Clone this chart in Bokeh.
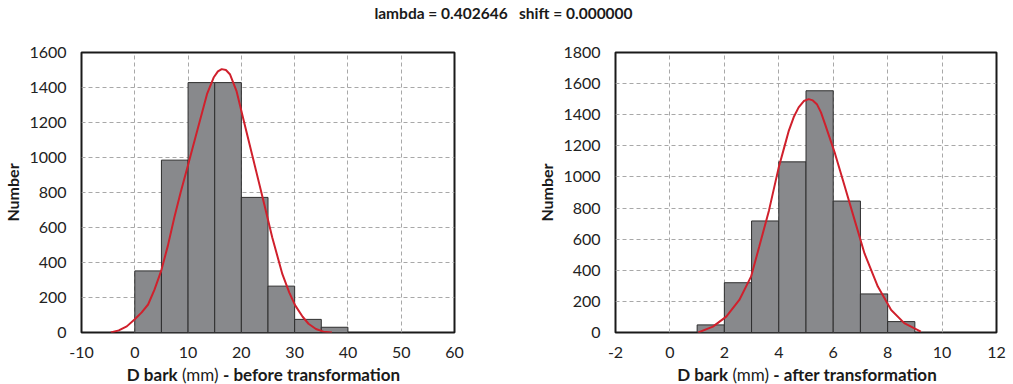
from bokeh.plotting import figure
from bokeh.models import Div, FixedTicker
from bokeh.layouts import column, row
from bokeh.embed import file_html
from bokeh.resources import INLINE

# ---------------- data ----------------
title_text = "lambda = 0.402646&nbsp;&nbsp;&nbsp;shift = 0.000000"
xlabel_before = "<b>D bark</b> (mm) <b>- before transformation</b>"
xlabel_after = "<b>D bark</b> (mm) <b>- after transformation</b>"
ylabel = "Number"

# before transformation
bins_before_left = [0, 5, 10, 15, 20, 25, 30, 35]
bins_before_right = [5, 10, 15, 20, 25, 30, 35, 40]
counts_before = [352, 985, 1428, 1428, 772, 265, 75, 30]
curve_before_x = [-4.5, -3.0, -1.5, 0.0, 1.3, 2.5, 3.7, 4.95, 6.2, 7.42, 8.6, 9.87, 11.7,
                  13.55, 14.8, 15.6, 16.32, 17.1, 17.85, 19.08, 20.3, 22.15, 23.99, 25.8,
                  27.7, 29.0, 30.1, 31.5, 32.6, 34.0, 35.4, 37.0]
curve_before_y = [0, 12, 35, 76, 115, 160, 245, 352, 495, 657, 800, 943, 1152,
                  1362, 1457, 1492, 1505, 1500, 1476, 1381, 1229, 1000, 771, 543,
                  333, 228, 155, 90, 50, 20, 5, 0]
xticks_before = [-10, 0, 10, 20, 30, 40, 50, 60]
yticks_before = [0, 200, 400, 600, 800, 1000, 1200, 1400, 1600]

# after transformation
bins_after_left = [1, 2, 3, 4, 5, 6, 7, 8]
bins_after_right = [2, 3, 4, 5, 6, 7, 8, 9]
counts_after = [49, 320, 717, 1097, 1554, 845, 248, 70]
curve_after_x = [1.04, 1.58, 2.07, 2.55, 2.98, 3.28, 3.64, 4.0, 4.2, 4.37, 4.55, 4.73,
                 4.92, 5.10, 5.25, 5.4, 5.55, 5.7, 6.07, 6.43, 6.79, 7.15, 7.64, 8.13,
                 8.61, 9.22]
curve_after_y = [0, 38, 102, 209, 359, 551, 785, 1063, 1190, 1298, 1385, 1447,
                 1488, 1500, 1492, 1468, 1415, 1340, 1148, 935, 721, 508, 295, 145,
                 60, 6]
xticks_after = [-2, 0, 2, 4, 6, 8, 10, 12]
yticks_after = [0, 200, 400, 600, 800, 1000, 1200, 1400, 1600, 1800]

FONT = "Lato"
BAR_FILL = "#88898c"
BAR_LINE = "#2e2e2e"
CURVE = "#d0202c"
TEXT = "#1a1a1a"


def make_plot(width, bl, br, xr, yr, xticks, yticks, lefts, rights, counts, cx, cy):
    p = figure(width=width, height=328, x_range=xr, y_range=yr,
               output_backend="svg", toolbar_location=None,
               min_border_left=bl, min_border_right=br,
               min_border_top=18, min_border_bottom=30)
    p.title = None
    p.outline_line_color = TEXT
    p.outline_line_width = 2
    p.outline_line_alpha = 1.0
    p.background_fill_color = "white"
    p.border_fill_color = "white"

    p.quad(left=lefts, right=rights, bottom=0, top=counts,
           fill_color=BAR_FILL, line_color=BAR_LINE, line_width=1)
    p.line(cx, cy, line_color=CURVE, line_width=2)

    for ax, ticks in ((p.xaxis, xticks), (p.yaxis, yticks)):
        ax.ticker = FixedTicker(ticks=ticks)
        ax.major_tick_line_color = None
        ax.minor_tick_line_color = None
        ax.axis_line_color = None
        ax.major_label_text_font = FONT
        ax.major_label_text_font_size = "16px"
        ax.major_label_text_color = "#222222"
        ax.major_label_standoff = 9
    p.xaxis.major_label_standoff = 8
    p.xaxis.major_label_overrides = {t: str(t) for t in xticks}

    p.yaxis.axis_label = ylabel
    p.yaxis.axis_label_text_font = FONT
    p.yaxis.axis_label_text_font_size = "16px"
    p.yaxis.axis_label_text_font_style = "bold"
    p.yaxis.axis_label_text_color = TEXT
    p.yaxis.axis_label_standoff = 4

    for g in (p.xgrid, p.ygrid):
        g.grid_line_color = "#a8a8a8"
        g.grid_line_dash = "4 3"
        g.grid_line_width = 1
    return p


def make_label(text, width, pad_left):
    return Div(text=text, width=width, height=16,
               styles={"text-align": "center", "font-family": FONT,
                       "font-size": "17px", "color": TEXT,
                       "line-height": "16px", "padding-left": f"{pad_left}px",
                       "box-sizing": "border-box", "white-space": "nowrap"})


p1 = make_plot(507, 74, 53, (-10, 60), (0, 1600), xticks_before, yticks_before,
               bins_before_left, bins_before_right, counts_before,
               curve_before_x, curve_before_y)
p2 = make_plot(490, 98, 11, (-2, 12), (0, 1800), xticks_after, yticks_after,
               bins_after_left, bins_after_right, counts_after,
               curve_after_x, curve_after_y)

l1 = make_label(xlabel_before, 507, 10)
l2 = make_label(xlabel_after, 490, 80)

title = Div(text=title_text, width=997, height=24,
            styles={"text-align": "center", "font-family": FONT,
                    "font-weight": "bold", "font-size": "15.5px",
                    "color": TEXT, "line-height": "17px"})

layout = column(title, row(column(p1, l1), column(p2, l2)))

open("out.html", "w").write(file_html(layout, INLINE))
